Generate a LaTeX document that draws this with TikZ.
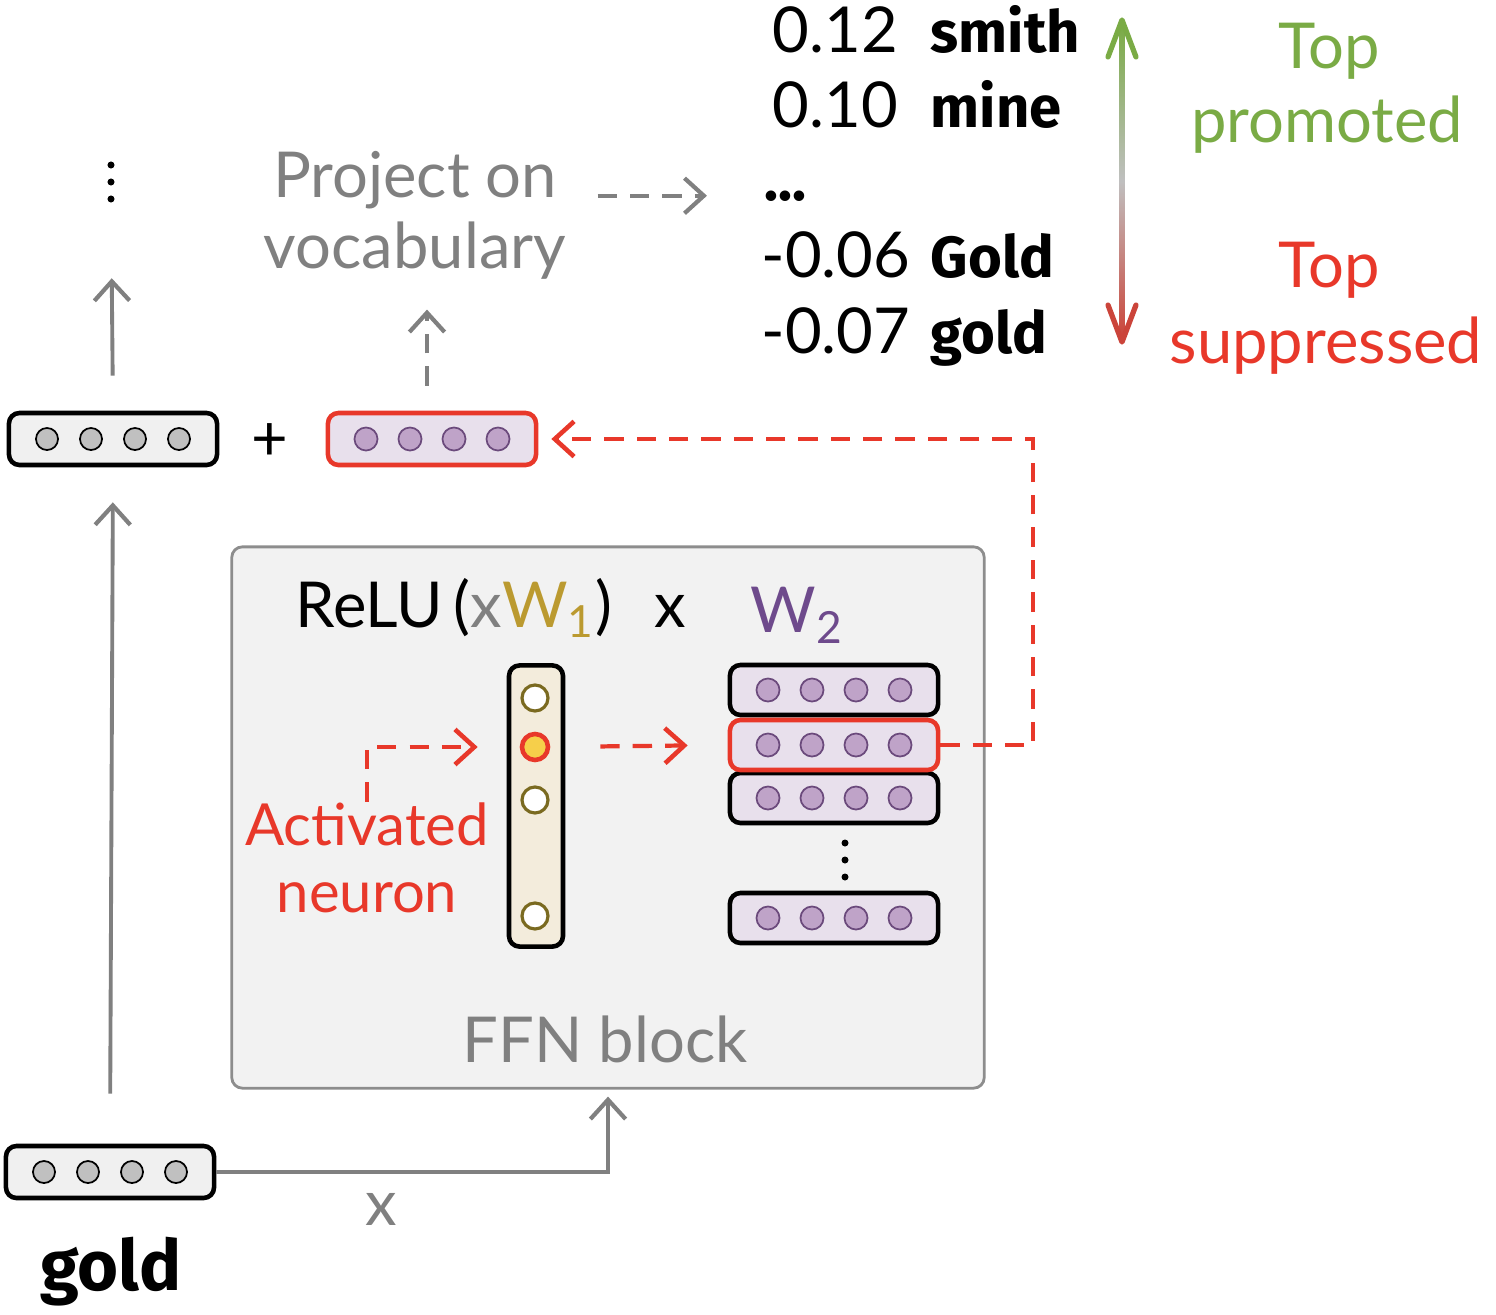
\documentclass[tikz,border=0pt]{standalone}
\usepackage{fontspec}
\setmainfont{Lato}
\newfontfamily\comicfont{Fira Sans}
\usepackage{tikz}
\usetikzlibrary{positioning}
\usetikzlibrary{calc}
\usetikzlibrary{arrows.meta}

\definecolor{lgray}{HTML}{808080}
\definecolor{boxgray}{HTML}{F0F0F0}
\definecolor{dotgray}{HTML}{C0C0C0}
\definecolor{hired}{HTML}{E8382A}
\definecolor{topgreen}{HTML}{7AAB45}
\definecolor{lilac}{HTML}{E8E0EC}
\definecolor{dotlilac}{HTML}{BFA3C8}
\definecolor{darklilac}{HTML}{6B4A7C}
\definecolor{wpurple}{HTML}{6E4A8C}
\definecolor{wgold}{HTML}{BB9A30}
\definecolor{cream}{HTML}{F3ECDC}
\definecolor{olive}{HTML}{7A6A20}
\definecolor{hotyellow}{HTML}{F6CF4A}
\definecolor{ffnfill}{HTML}{F2F2F2}

\tikzset{
    txt/.style={font=\fontsize{18}{21}\selectfont, inner sep=0pt},
    word/.style={font=\comicfont\fontsize{16.5}{20}\selectfont\bfseries, inner sep=0pt},
    vecbox/.style={draw, line width=1.3pt, rounded corners=3pt, minimum width=2.08cm, minimum height=0.52cm, inner sep=0pt},
    graydot/.style={circle, draw, line width=0.5pt, fill=dotgray, minimum size=0.22cm, inner sep=0pt},
    lilacdot/.style={circle, draw=darklilac, line width=0.5pt, fill=dotlilac, minimum size=0.23cm, inner sep=0pt},
    neuron/.style={circle, draw=olive, line width=0.9pt, fill=white, minimum size=0.26cm, inner sep=0pt},
    tinydot/.style={circle, fill=black, minimum size=0.07cm, inner sep=0pt},
    garrow/.style={lgray, line width=1.1pt, -{Straight Barb[length=5.5pt,width=10pt,line width=1.2pt]}},
    gdash/.style={garrow, dash pattern=on 5.5pt off 3.7pt},
    rdash/.style={hired, line width=1.2pt, dash pattern=on 5.5pt off 3.7pt, -{Straight Barb[length=5.5pt,width=10pt,line width=1.3pt]}}
}

% four circles along a vector box
\newcommand{\fourdots}[2]{%
    \foreach \k in {-1.5,-0.5,0.5,1.5}
        \node[#2] at ($(#1)+(\k*44,0)$) {};
}

\begin{document}
\begin{tikzpicture}[x=0.01cm, y=-0.01cm]
    \useasboundingbox (0,0) rectangle (1496,1315);

    % FFN block
    \node (ffn) [draw=lgray!90, fill=ffnfill, line width=0.8pt, rounded corners=3pt, minimum width=7.52cm, minimum height=5.41cm] at (608,817.5) {};
    \node (ffnlab) [txt, text=lgray, anchor=base] at (605,1062) {FFN block};

    \node (relu) [txt, anchor=base] at (454,627) {ReLU\,(\textcolor{lgray}{x}\textcolor{wgold}{W\textsubscript{1}})};
    \node (times) [txt, anchor=base] at (670,627) {x};
    \node (wtwo) [txt, text=wpurple, anchor=base] at (797,632) {W\textsubscript{2}};

    % activations column
    \node (col) [draw, line width=1.3pt, rounded corners=3pt, fill=cream, minimum width=0.54cm, minimum height=2.81cm, inner sep=0pt] at (536,806) {};
    \node (n1) [neuron] at (535,698) {};
    \node (hot) [neuron, draw=hired, line width=1.3pt, fill=hotyellow] at (535,747) {};
    \node (n3) [neuron] at (535,800) {};
    \node (n4) [neuron] at (535,916) {};

    % rows of W2
    \node (w2a) [vecbox, fill=lilac, minimum height=0.5cm] at (834,690) {};
    \node (w2c) [vecbox, fill=lilac, minimum height=0.5cm] at (834,798) {};
    \node (w2b) [vecbox, fill=lilac, draw=hired, minimum height=0.5cm] at (834,745) {};
    \node (w2d) [vecbox, fill=lilac, minimum height=0.5cm] at (834,918) {};
    \fourdots{w2a}{lilacdot}
    \fourdots{w2b}{lilacdot}
    \fourdots{w2c}{lilacdot}
    \fourdots{w2d}{lilacdot}
    \node (rd1) [tinydot] at (845,843) {};
    \node (rd2) [tinydot] at (845,860) {};
    \node (rd3) [tinydot] at (845,877) {};

    \node (act) [txt, font=\fontsize{16.5}{20}\selectfont, text=hired, anchor=base] at (367,845) {Activated};
    \node (neu) [txt, font=\fontsize{16.5}{20}\selectfont, text=hired, anchor=base] at (367,912) {neuron};

    % residual stream
    \node (inp) [vecbox, fill=boxgray] at (110,1172) {};
    \fourdots{inp}{graydot}
    \node (tok) [word, font=\comicfont\fontsize{20}{24}\selectfont\bfseries, anchor=base] at (111,1290) {gold};
    \node (xlab) [txt, text=lgray, anchor=base] at (381,1225) {x};

    \node (res) [vecbox, fill=boxgray] at (113,439) {};
    \fourdots{res}{graydot}
    \node (plus) [txt] at (270,442) {+};
    \node (upd) [vecbox, fill=lilac, draw=hired] at (432,439) {};
    \fourdots{upd}{lilacdot}

    \node (ud1) [tinydot] at (111,165) {};
    \node (ud2) [tinydot] at (111,182) {};
    \node (ud3) [tinydot] at (111,199) {};

    \node (proj1) [txt, text=lgray, anchor=base] at (415,197) {Project on};
    \node (proj2) [txt, text=lgray, anchor=base] at (415,268) {vocabulary};

    % logit lens list
    \node (v1) [txt, anchor=base west] at (772,52) {0.12};
    \node (t1) [word, anchor=base west] at (930,52) {smith};
    \node (v2) [txt, anchor=base west] at (772,127) {0.10};
    \node (t2) [word, anchor=base west] at (930,127) {mine};
    \node (ell) [word, anchor=base west] at (764,200) {...};
    \node (v3) [txt, anchor=base west] at (761,277) {-0.06};
    \node (t3) [word, anchor=base west] at (930,277) {Gold};
    \node (v4) [txt, anchor=base west] at (761,353) {-0.07};
    \node (t4) [word, anchor=base west] at (930,353) {gold};

    % promoted / suppressed scale
    \shade[top color=topgreen, bottom color=hired!85!black!90, middle color=lgray!50] (1119.5,24) rectangle (1124.5,338);
    \draw[topgreen, line width=1.5pt, line cap=round, line join=round] (1108,57) -- (1122,20) -- (1136,57);
    \draw[hired!85!black!90, line width=1.5pt, line cap=round, line join=round] (1108,305) -- (1122,342) -- (1136,305);
    \node (pr1) [txt, text=topgreen, anchor=base] at (1329,68) {Top};
    \node (pr2) [txt, text=topgreen, anchor=base] at (1327,143) {promoted};
    \node (su1) [txt, text=hired, anchor=base] at (1329,287) {Top};
    \node (su2) [txt, text=hired, anchor=base] at (1326,363) {suppressed};

    % connectors
    \draw[garrow, shorten >=2pt] (inp.east) -| (ffn.south);
    \draw[garrow, shorten <=0.5cm, shorten >=0.35cm] (inp.north) -- (res.south);
    \draw[garrow, shorten <=0.35cm, shorten >=0.75cm] (res.north) -- (ud3);
    \draw[gdash, shorten <=0.25cm, shorten >=0.3cm] (upd.north -| 427,0) -- (proj2.south -| 427,0);
    \draw[gdash, shorten <=0.4cm, shorten >=0.57cm] (proj1.east |- ell) -- (ell.west);
    \draw[rdash] (act.north) |- ([xshift=-0.29cm]col.west |- hot);
    \draw[rdash, shorten <=0.5cm, shorten >=0.4cm] (hot.east) -- (w2b.west);
    \draw[rdash, shorten >=0.13cm] (w2b.east) -- ++(93,0) |- (upd.east);

\end{tikzpicture}
\end{document}
